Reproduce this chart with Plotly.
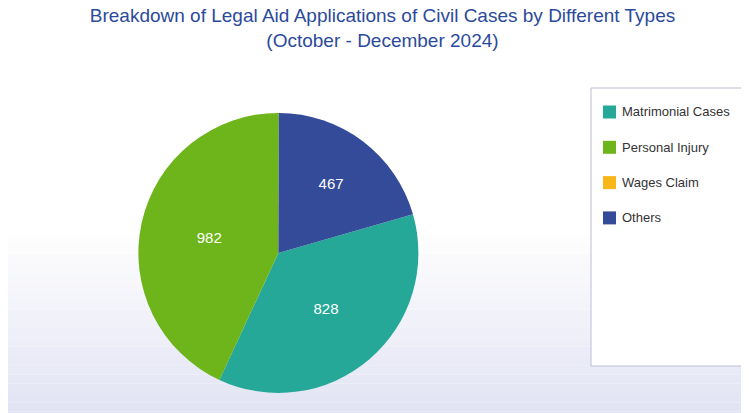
import plotly.graph_objects as go

labels = ["Matrimonial Cases", "Personal Injury", "Wages Claim", "Others"]
values = [828, 982, 0, 467]
colors = ["#25a898", "#6db51a", "#f7b719", "#334b99"]

W, H = 749, 413
fig = go.Figure(go.Pie(
    labels=labels, values=values, sort=False, direction="clockwise", rotation=74,
    marker=dict(colors=colors, line=dict(color="rgba(0,0,0,0)", width=0)),
    textinfo="value", textposition="inside", insidetextorientation="horizontal",
    textfont=dict(color="white", size=15, family="Liberation Sans"),
    domain=dict(x=[0.174, 0.548], y=[0.068, 0.746]), hoverinfo="label+value",
    showlegend=False,
))

shapes = []
n = 20
for i in range(n):
    y0 = 0.45 * i / n
    y1 = 0.45 * (i + 1) / n
    t = 1 - i / n
    r = int(255 - 30 * t); g = int(255 - 28 * t); b = int(255 - 12 * t)
    shapes.append(dict(type="rect", xref="paper", yref="paper", x0=-0.01, x1=1.01,
                       y0=y0, y1=y1, fillcolor=f"rgb({r},{g},{b})", line=dict(width=0), layer="below"))

def px(x): return x / W
def py(y): return 1 - y / H

# legend box
shapes.append(dict(type="rect", xref="paper", yref="paper", x0=px(583), x1=px(740), y0=py(358), y1=py(80),
                   fillcolor="white", line=dict(color="#b9bfd6", width=1)))
annotations = []
for i, (lab, col) in enumerate(zip(labels, colors)):
    yc = 104 + i * 35.3
    shapes.append(dict(type="rect", xref="paper", yref="paper", x0=px(595), x1=px(608),
                       y0=py(yc + 6.5), y1=py(yc - 6.5), fillcolor=col, line=dict(width=0)))
    annotations.append(dict(text=lab, xref="paper", yref="paper", x=px(612), y=py(yc),
                            xanchor="left", yanchor="middle", showarrow=False,
                            font=dict(family="Liberation Sans", size=13, color="#333")))

fig.update_layout(
    width=W, height=H, paper_bgcolor="white", plot_bgcolor="white",
    margin=dict(l=0, r=0, t=0, b=0), shapes=shapes, annotations=annotations,
    title=dict(text="Breakdown of Legal Aid Applications of Civil Cases by Different Types<br>(October - December 2024)",
               x=0.5, xanchor="center", y=0.965, yanchor="top",
               font=dict(family="Liberation Sans", size=19, color="#2b4a9b")),
)
fig.write_html("out.html")
